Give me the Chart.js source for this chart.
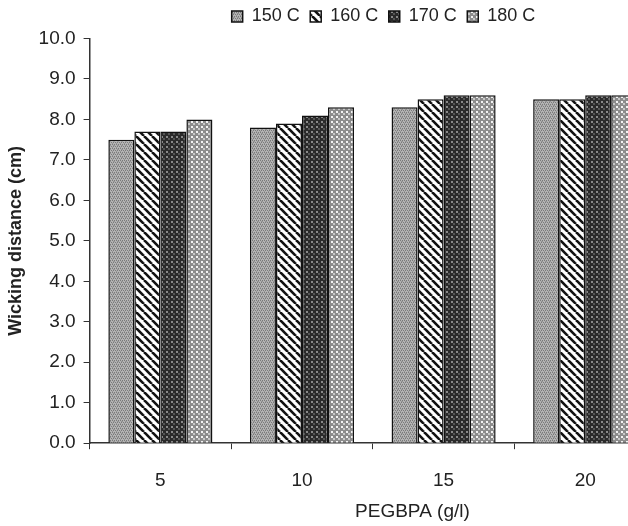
<!DOCTYPE html>
<html>
<head>
<meta charset="utf-8">
<script src="https://cdn.jsdelivr.net/npm/chart.js@4/dist/chart.umd.min.js"></script>
<style>
  html, body { margin: 0; padding: 0; background: #fff; overflow: hidden; }
  #wrap { width: 690px; height: 526px; }
</style>
</head>
<body>
<div id="wrap"><canvas id="chart" width="690" height="526"></canvas></div>
<script>
// Datos
const categorias = ['5', '10', '15', '20'];
const series = ['150 C', '160 C', '170 C', '180 C'];
const v150 = [7.5, 7.8, 8.3, 8.5];
const v160 = [7.7, 7.9, 8.5, 8.5];
const v170 = [7.7, 8.1, 8.6, 8.6];
const v180 = [8.0, 8.3, 8.6, 8.6];
const yTicks = [0, 1, 2, 3, 4, 5, 6, 7, 8, 9, 10];

const FONT = "'Liberation Sans', Arial, sans-serif";
const TXT = '#222';

function makePattern(size, draw) {
    const c = document.createElement('canvas');
    c.width = size; c.height = size;
    const g = c.getContext('2d');
    draw(g, size);
    return document.getElementById('chart').getContext('2d').createPattern(c, 'repeat');
}

// gris fino
const pat150 = makePattern(4, (g) => {
    g.fillStyle = '#b4b4b4'; g.fillRect(0, 0, 4, 4);
    g.fillStyle = '#7a7a7a';
    g.fillRect(0, 0, 1, 1); g.fillRect(2, 0, 1, 1);
    g.fillRect(1, 2, 1, 1); g.fillRect(3, 2, 1, 1);
    g.fillStyle = '#959595';
    g.fillRect(1, 1, 2, 1); g.fillRect(0, 3, 1, 1);
});
// rayas diagonales
const pat160 = makePattern(8, (g) => {
    g.fillStyle = '#fff'; g.fillRect(0, 0, 8, 8);
    g.strokeStyle = '#111'; g.lineWidth = 2.6;
    for (let k = -16; k <= 16; k += 8) {
        g.beginPath(); g.moveTo(k, 0); g.lineTo(k + 8, 8); g.stroke();
    }
});
// cuadros oscuros
const pat170 = makePattern(5, (g) => {
    g.fillStyle = '#2a2a2a'; g.fillRect(0, 0, 5, 5);
    g.fillStyle = '#8a8a8a'; g.fillRect(1, 1, 2, 2);
    g.fillStyle = '#555'; g.fillRect(3, 3, 2, 2);
});
// cuadros claros
const pat180 = makePattern(5, (g) => {
    g.fillStyle = '#8c8c8c'; g.fillRect(0, 0, 5, 5);
    g.fillStyle = '#f4f4f4'; g.fillRect(1, 1, 2, 2);
    g.fillStyle = '#c8c8c8'; g.fillRect(3, 3, 2, 2);
});

const valores = [v150, v160, v170, v180];
const patrones = [pat150, pat160, pat170, pat180];

const xTitle = {
    id: 'xTitle',
    afterLayout(chart) {
        // leyenda desplazada a la derecha como en el original
        chart.legend.left += 53;
        chart.legend.right += 53;
        chart.legend.top -= 3;
        chart.legend.bottom -= 3;
    },
    afterDraw(chart) {
        const xs = chart.scales.x;
        const ctx = chart.ctx;
        ctx.save();
        ctx.font = '19px ' + FONT;
        ctx.fillStyle = TXT;
        ctx.textAlign = 'center';
        ctx.textBaseline = 'middle';
        ctx.fillText('PEGBPA (g/l)', xs.left + (xs.right - xs.left) * 0.57, 512);
        ctx.restore();
    }
};

new Chart(document.getElementById('chart'), {
    type: 'bar',
    data: {
        labels: categorias,
        datasets: series.map((s, i) => ({
            label: s,
            data: valores[i],
            backgroundColor: patrones[i],
            borderColor: '#111',
            borderWidth: 1.5,
            borderSkipped: 'bottom',
            categoryPercentage: 0.735,
            barPercentage: 1.0
        }))
    },
    options: {
        responsive: false,
        animation: false,
        layout: { padding: { left: 5, right: 34, top: 0, bottom: 14 } },
        plugins: {
            legend: {
                display: true,
                position: 'top',
                labels: {
                    font: { family: FONT, size: 18 },
                    color: TXT,
                    boxWidth: 11,
                    boxHeight: 11,
                    padding: 10.5
                }
            },
            tooltip: { enabled: false }
        },
        scales: {
            x: {
                grid: { display: true, drawOnChartArea: false, color: '#333', tickLength: 6, offset: true },
                border: { color: '#333', width: 1.5 },
                ticks: { font: { family: FONT, size: 19 }, color: TXT, padding: 20 }
            },
            y: {
                min: 0,
                max: 10,
                afterBuildTicks: (axis) => { axis.ticks = yTicks.map(v => ({ value: v })); },
                grid: { display: true, drawOnChartArea: false, color: '#333', tickLength: 6 },
                border: { color: '#333', width: 1.5 },
                ticks: {
                    font: { family: FONT, size: 19 },
                    color: TXT,
                    padding: 8,
                    callback: (v) => Number(v).toFixed(1)
                },
                title: {
                    display: true,
                    text: 'Wicking distance (cm)',
                    font: { family: FONT, size: 18, weight: 'bold' },
                    color: TXT,
                    padding: { top: 0, bottom: 4 }
                }
            }
        }
    },
    plugins: [xTitle]
});
</script>
</body>
</html>
